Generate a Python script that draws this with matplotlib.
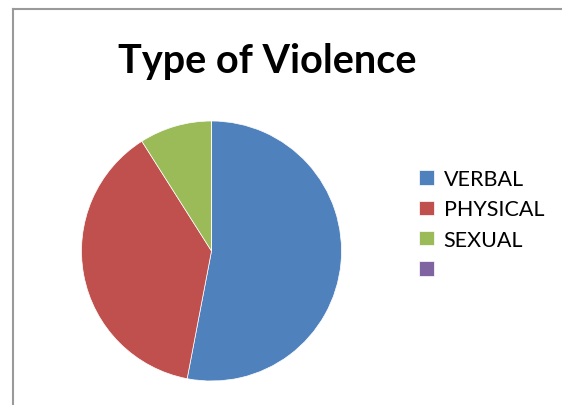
import matplotlib
matplotlib.use('Agg')
from matplotlib import pyplot as plt
from matplotlib.lines import Line2D

plt.rcParams['font.family'] = ['Lato', 'DejaVu Sans']

# datos
categorias = ['VERBAL', 'PHYSICAL', 'SEXUAL', '']
valores = [53, 38, 9, 0]
colores = ['#4F81BD', '#C0504D', '#9BBB59', '#8064A2']

W, H = 562, 406
fig = plt.figure(figsize=(W / 100, H / 100), dpi=100)

# pie: centro (211.5, 252), radio 130 px
ax = fig.add_axes([81.5 / W, (H - 382) / H, 260 / W, 260 / H])
wedges, _ = ax.pie(valores, colors=colores, startangle=90, counterclock=False,
                   wedgeprops=dict(edgecolor='white', linewidth=0.5))
ax.set_xlim(-1, 1)
ax.set_ylim(-1, 1)
ax.set_aspect('equal')

fig.text(267 / W, 1 - 61 / H, 'Type of Violence', ha='center', va='center',
         fontsize=28.5, fontweight='bold')

ax.legend(wedges, categorias, loc='upper left',
          bbox_to_anchor=(400 / W, 1 - 151 / H), bbox_transform=fig.transFigure,
          frameon=False, fontsize=15.5, handlelength=0.68, handleheight=0.68,
          handletextpad=0.45, labelspacing=0.47)

# borde del grafico
fig.add_artist(Line2D([12.5 / W, 1], [1 - 10 / H, 1 - 10 / H], color='#9a9a9a', lw=1.5))
fig.add_artist(Line2D([12.5 / W, 12.5 / W], [0, 1 - 10 / H], color='#9a9a9a', lw=1.5))

fig.savefig('out.png', dpi=100)
